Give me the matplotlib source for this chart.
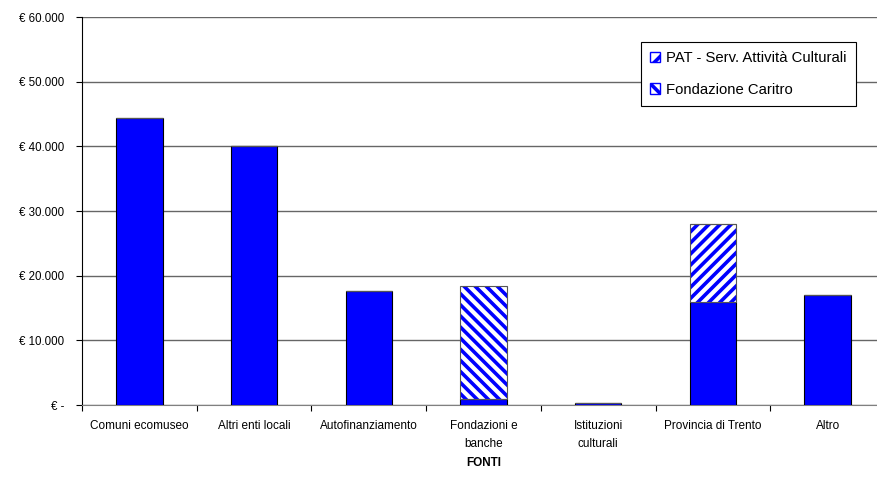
import matplotlib
matplotlib.use("Agg")
import matplotlib.pyplot as plt
from matplotlib.patches import Patch
import numpy as np

plt.rcParams['font.family'] = ['Liberation Sans', 'DejaVu Sans']

categories = ["Comuni ecomuseo", "Altri enti locali", "Autofinanziamento",
              "Fondazioni e\nbanche", "Istituzioni\nculturali",
              "Provincia di Trento", "Altro"]
base_values = [44400, 40100, 17600, 1000, 350, 15900, 17000]
pat_values = [0, 0, 0, 0, 0, 12100, 0]
caritro_values = [0, 0, 0, 17400, 0, 0, 0]
series_names = ["PAT - Serv. Attività Culturali", "Fondazione Caritro"]
ytick_values = [0, 10000, 20000, 30000, 40000, 50000, 60000]
ytick_labels = ["€ -", "€ 10.000", "€ 20.000", "€ 30.000", "€ 40.000", "€ 50.000", "€ 60.000"]

W, H = 878, 478
fig = plt.figure(figsize=(W / 100, H / 100), dpi=100)
ax = fig.add_axes([82 / W, (H - 405) / H, 803 / W, 388 / H])

blue = "#0000FF"
x = np.arange(len(categories))
bw = 0.405
plt.rcParams['hatch.linewidth'] = 2.6

base = np.array(base_values, dtype=float)
pat = np.array(pat_values, dtype=float)
car = np.array(caritro_values, dtype=float)

ax.bar(x, base, bw, color=blue, edgecolor="black", linewidth=0.8, zorder=3)
# hatched stacks
ax.bar(x, pat, bw, bottom=base, facecolor="white", edgecolor=blue, hatch="///",
       linewidth=0, zorder=3)
ax.bar(x, pat, bw, bottom=base, fill=False, edgecolor="#555555", linewidth=0.8, zorder=4)
ax.bar(x, car, bw, bottom=base + pat, facecolor="white", edgecolor=blue, hatch="\\\\\\",
       linewidth=0, zorder=3)
ax.bar(x, car, bw, bottom=base + pat, fill=False, edgecolor="#555555", linewidth=0.8, zorder=4)

ax.set_xlim(-0.5, len(categories) - 0.5)
ax.set_ylim(0, 60000)
ax.set_yticks(ytick_values)
ax.set_yticklabels(ytick_labels)
ax.yaxis.grid(True, color="#666666", linewidth=1.0, zorder=0)
ax.set_axisbelow(True)

ax.set_xticks(x)
ax.set_xticklabels(categories, va="top", ha="center", linespacing=1.6)
ax.set_xticks(np.arange(len(categories) + 1) - 0.5, minor=True)
ax.tick_params(axis="x", which="major", length=0, pad=11, labelsize=8.5)
ax.tick_params(axis="x", which="minor", length=4, direction="out", width=0.8)
ax.tick_params(axis="y", length=4, direction="out", width=0.8, labelsize=8.3, pad=9)

for s in ["top", "right"]:
    ax.spines[s].set_visible(False)
ax.spines["left"].set_color("black")
ax.spines["bottom"].set_color("#808080")

ax.set_xlabel("FONTI", fontsize=8.5, fontweight="bold", labelpad=5)

handles = [
    Patch(facecolor="white", edgecolor=blue, hatch="//", label=series_names[0]),
    Patch(facecolor="white", edgecolor=blue, hatch="\\\\", label=series_names[1]),
]
leg = ax.legend(handles=handles, loc="upper left",
                bbox_to_anchor=((641 - 82) / 803, (405 - 42) / 388),
                frameon=True, fancybox=False, edgecolor="black", framealpha=1,
                fontsize=10.7, handlelength=0.7, handleheight=0.7, handletextpad=0.4,
                labelspacing=1.2, borderpad=0.6, borderaxespad=0)
leg.get_frame().set_linewidth(0.8)

fig.savefig("out.png", dpi=100)
